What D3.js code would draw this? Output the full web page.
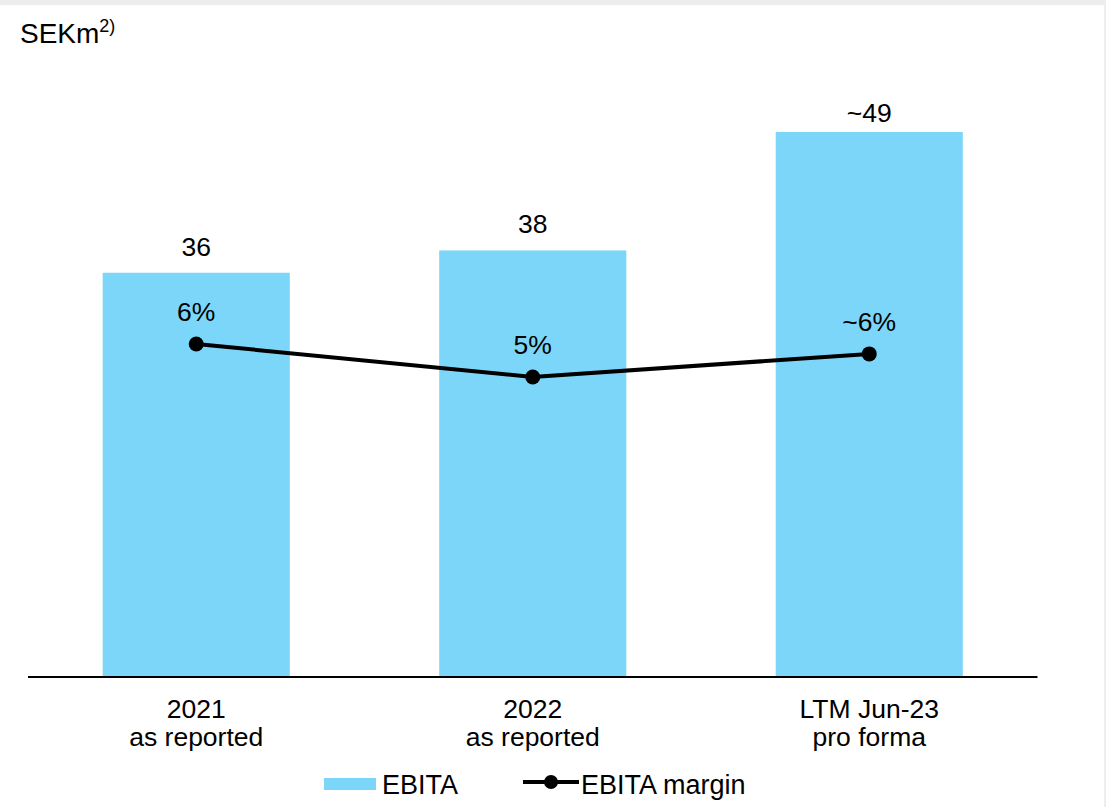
<!DOCTYPE html>
<html>
<head>
<meta charset="utf-8">
<script src="https://cdn.jsdelivr.net/npm/d3@7"></script>
<style>
  html, body { margin: 0; padding: 0; background: #fff; }
  svg { display: block; font-family: Arial, "Liberation Sans", sans-serif; }
</style>
</head>
<body>
<script>
// EBITA bars + margin line
var categories = [["2021", "as reported"], ["2022", "as reported"], ["LTM Jun-23", "pro forma"]];
var ebita = [36.1, 38.1, 48.7];
var ebitaLabels = ["36", "38", "~49"];
var margin = [6.0, 5.0, 5.7];
var marginLabels = ["6%", "5%", "~6%"];

var chartVars = {
  width: 1106,
  height: 807,
  barColor: '#7bd6fa',
  baseY: 676
};

var svg = d3.select('body').append('svg').attr('width', chartVars.width).attr('height', chartVars.height);

// grey frame bits at top and right
svg.append('rect').attr('x', 0).attr('y', 0).attr('width', chartVars.width).attr('height', 5).attr('fill', '#ededeb');
svg.append('rect').attr('x', 1104).attr('y', 0).attr('width', 2).attr('height', chartVars.height).attr('fill', '#ededeb');

var x = d3.scaleBand().domain(d3.range(categories.length)).range([28, 1037.5]).paddingInner(0.444).paddingOuter(0.222);
var y = d3.scaleLinear().domain([0, 50]).range([chartVars.baseY, chartVars.baseY - 50 * 11.17]);
var ym = d3.scaleLinear().domain([0, 10]).range([542, 212]);
var cx = function(d, i) { return x(i) + x.bandwidth() / 2; };

// unit label
var unit = svg.append('text').attr('x', 20).attr('y', 43).attr('font-size', 28).attr('fill', '#000');
unit.append('tspan').text('SEKm');
unit.append('tspan').attr('font-size', 18).attr('dy', -11).text('2)');

// bars
svg.selectAll('.bar').data(ebita).enter().append('rect')
  .attr('class', 'bar')
  .attr('x', function(d, i) { return x(i); })
  .attr('y', function(d) { return y(d); })
  .attr('width', x.bandwidth())
  .attr('height', function(d) { return y(0) - y(d); })
  .attr('fill', chartVars.barColor);

svg.selectAll('.barlabel').data(ebita).enter().append('text')
  .attr('x', cx)
  .attr('y', function(d, i) { return y(d) - (i === 2 ? 10 : 17); })
  .attr('text-anchor', 'middle').attr('font-size', 26.5)
  .text(function(d, i) { return ebitaLabels[i]; });

// baseline
svg.append('line').attr('x1', 28).attr('x2', 1037.5)
  .attr('y1', y(0) + 1).attr('y2', y(0) + 1)
  .attr('stroke', '#000').attr('stroke-width', 2);

// category labels
var cat = svg.selectAll('.cat').data(categories).enter().append('text')
  .attr('text-anchor', 'middle').attr('font-size', 26.5)
  .attr('x', cx)
  .attr('y', 718);
cat.append('tspan').attr('x', cx).text(function(d) { return d[0]; });
cat.append('tspan').attr('x', cx).attr('dy', 28).text(function(d) { return d[1]; });

// margin line
var line = d3.line().x(cx).y(function(d) { return ym(d); });
svg.append('path').datum(margin).attr('d', line).attr('fill', 'none').attr('stroke', '#000').attr('stroke-width', 4);
svg.selectAll('.dot').data(margin).enter().append('circle')
  .attr('cx', cx)
  .attr('cy', function(d) { return ym(d); })
  .attr('r', 7.5).attr('fill', '#000');
svg.selectAll('.mlabel').data(margin).enter().append('text')
  .attr('x', cx)
  .attr('y', function(d) { return ym(d) - 23; })
  .attr('text-anchor', 'middle').attr('font-size', 26.5)
  .text(function(d, i) { return marginLabels[i]; });

// legend
var lg = svg.append('g');
lg.append('rect').attr('x', 324).attr('y', 778).attr('width', 52).attr('height', 12).attr('fill', chartVars.barColor);
lg.append('text').attr('x', 382).attr('y', 794).attr('font-size', 27).text('EBITA');
lg.append('line').attr('x1', 523).attr('x2', 579).attr('y1', 782).attr('y2', 782).attr('stroke', '#000').attr('stroke-width', 4);
lg.append('circle').attr('cx', 551).attr('cy', 782).attr('r', 7).attr('fill', '#000');
lg.append('text').attr('x', 581).attr('y', 794).attr('font-size', 27).text('EBITA margin');
</script>
</body>
</html>
